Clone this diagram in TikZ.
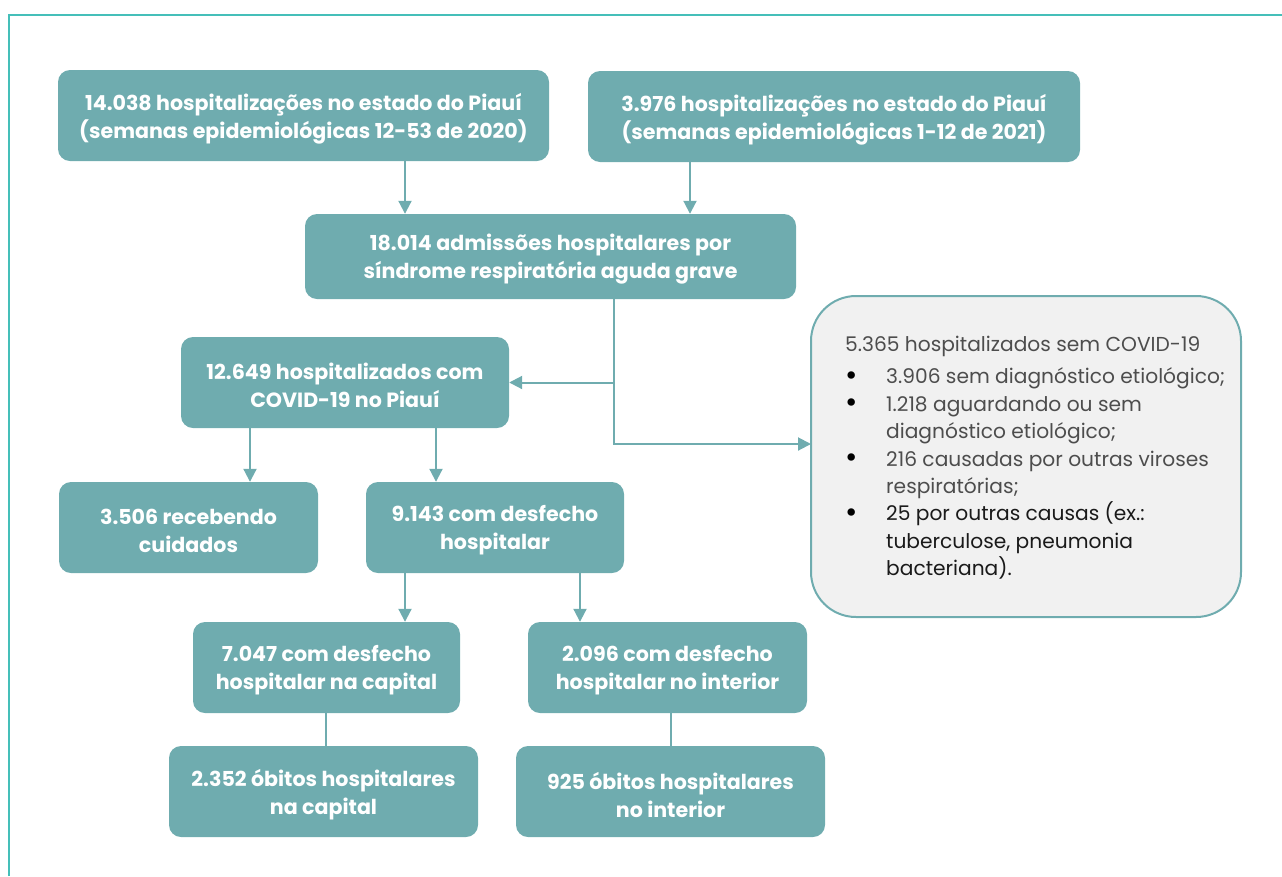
\documentclass[tikz,border=0pt]{standalone}
\usepackage{fontspec}
\setmainfont{Poppins}
\usetikzlibrary{arrows.meta,calc}
\definecolor{boxteal}{HTML}{6FACAF}
\definecolor{frameteal}{HTML}{45BFB9}
\definecolor{greyfill}{HTML}{F1F1F1}
\definecolor{greytext}{HTML}{4D4D4D}
\definecolor{darktext}{HTML}{1A1A1A}
\newcommand{\bigdot}{\makebox[41pt][l]{\hspace{0pt}\textcolor{black}{\fontsize{30}{0}\selectfont\raisebox{-1.5pt}{•}}}}
\begin{document}
\begin{tikzpicture}[x=1pt,y=-1pt,
  tbox/.style={rectangle, rounded corners=12pt, fill=boxteal, inner sep=0pt},
  tlab/.style={text=white, align=center, inner sep=0pt, yshift=-3pt,
    font=\fontsize{20.6}{28}\selectfont\bfseries},
  arr/.style={draw=boxteal, line width=2pt, -{Triangle[width=13pt,length=13pt]}},
  plain/.style={draw=boxteal, line width=2pt}]
\useasboundingbox (0,0) rectangle (1282,876);
\draw[frameteal, line width=2pt] (9,876) -- (9,15) -- (1282,15);

\node[tbox, minimum width=491pt, minimum height=91pt,
  label={[tlab]center:{14.038 hospitalizações no estado do Piauí\\(semanas epidemiológicas 12-53 de 2020)}}] (A) at (303.5,115.5) {};
\node[tbox, minimum width=492pt, minimum height=91pt,
  label={[tlab]center:{3.976 hospitalizações no estado do Piauí\\(semanas epidemiológicas 1-12 de 2021)}}] (B) at (834,116.5) {};
\node[tbox, minimum width=491pt, minimum height=85pt,
  label={[tlab]center:{18.014 admissões hospitalares por\\síndrome respiratória aguda grave}}] (C) at (550.5,256.5) {};
\node[tbox, minimum width=328pt, minimum height=91pt,
  label={[tlab]center:{12.649 hospitalizados com\\COVID-19 no Piauí}}] (D) at (345,382.5) {};
\node[tbox, minimum width=259pt, minimum height=91pt,
  label={[tlab]center:{3.506 recebendo\\cuidados}}] (E) at (188.5,527.5) {};
\node[tbox, minimum width=258pt, minimum height=91pt,
  label={[tlab]center:{9.143 com desfecho\\hospitalar}}] (F) at (495,527.5) {};
\node[tbox, minimum width=267pt, minimum height=91pt,
  label={[tlab]center:{7.047 com desfecho\\hospitalar na capital}}] (G) at (326.5,667.5) {};
\node[tbox, minimum width=279pt, minimum height=91pt,
  label={[tlab]center:{2.096 com desfecho\\hospitalar no interior}}] (H) at (667.5,667.5) {};
\node[tbox, minimum width=309pt, minimum height=91pt,
  label={[tlab]center:{2.352 óbitos hospitalares\\na capital}}] (I) at (323.5,791.5) {};
\node[tbox, minimum width=309pt, minimum height=91pt,
  label={[tlab]center:{925 óbitos hospitalares\\no interior}}] (J) at (670.5,791.5) {};

\node[rectangle, rounded corners=45pt, fill=greyfill, draw=boxteal, line width=2pt,
  minimum width=430pt, minimum height=321pt, inner sep=0pt] (K) at (1026,456.5) {};
\node[anchor=north west, align=left, inner sep=0pt, text=greytext,
  font=\fontsize{20.2}{27.4}\selectfont] (Ktext) at (845,336)
  {5.365 hospitalizados sem COVID-19\\[5pt]
   \bigdot 3.906 sem diagnóstico etiológico;\\
   \bigdot 1.218 aguardando ou sem\\
   \hspace*{41pt}diagnóstico etiológico;\\
   \bigdot 216 causadas por outras viroses\\
   \hspace*{41pt}respiratórias;\\
   \bigdot \textcolor{darktext}{25 por outras causas (ex.:}\\
   \hspace*{41pt}\textcolor{darktext}{tuberculose, pneumonia}\\
   \hspace*{41pt}\textcolor{darktext}{bacteriana).}};

\coordinate (xa) at (405,0);
\coordinate (xb) at (690,0);
\coordinate (xc) at (614,0);
\coordinate (kin) at (811,444);
\coordinate (xd) at (250,0);
\coordinate (xe) at (436,0);
\coordinate (xf) at (405,0);
\coordinate (xg) at (580,0);
\coordinate (xh) at (326,0);
\coordinate (xi) at (671,0);

\draw[arr] (A.south -| xa) -- (C.north -| xa);
\draw[arr] (B.south -| xb) -- (C.north -| xb);
\draw[arr] (C.south -| xc) -- (xc |- kin) -- (kin);
\draw[arr] (xc |- D.east) -- (D.east);
\draw[arr] (D.south -| xd) -- (E.north -| xd);
\draw[arr] (D.south -| xe) -- (F.north -| xe);
\draw[arr] (F.south -| xf) -- (G.north -| xf);
\draw[arr] (F.south -| xg) -- (H.north -| xg);
\draw[plain] (G.south -| xh) -- (I.north -| xh);
\draw[plain] (H.south -| xi) -- (J.north -| xi);
\end{tikzpicture}
\end{document}
